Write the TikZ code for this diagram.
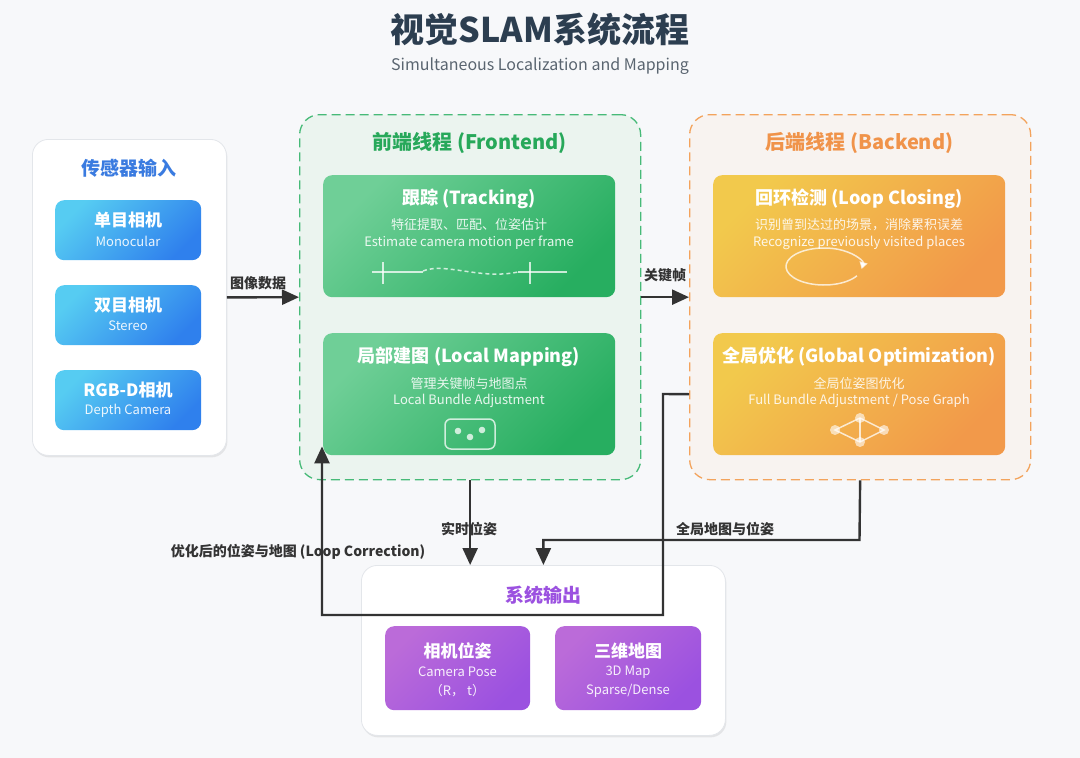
\documentclass[tikz,border=0pt]{standalone}
\usepackage{fontspec}
\setmainfont{Noto Sans CJK SC}
\usetikzlibrary{arrows.meta,shadows,calc}
\definecolor{bg}{HTML}{F7F8FA}
\definecolor{titlec}{HTML}{2C3E50}
\definecolor{subc}{HTML}{5A6570}
\definecolor{blueD}{HTML}{2F80ED}
\definecolor{blueL}{HTML}{56CCF2}
\definecolor{blueT}{HTML}{3A7BE0}
\definecolor{greenL}{HTML}{6FCF97}
\definecolor{greenD}{HTML}{27AE60}
\definecolor{greenT}{HTML}{27A85A}
\definecolor{greenF}{HTML}{EBF4EF}
\definecolor{orangeL}{HTML}{F2C94C}
\definecolor{orangeD}{HTML}{F2994A}
\definecolor{orangeT}{HTML}{F0934A}
\definecolor{orangeF}{HTML}{F8F3F0}
\definecolor{purpleL}{HTML}{BB6BD9}
\definecolor{purpleD}{HTML}{9B51E0}
\definecolor{darkc}{HTML}{333333}
\definecolor{panelline}{HTML}{E3E6EA}
\newcommand{\myfs}[1]{\fontsize{#1}{#1}\selectfont}
\begin{document}
\begin{tikzpicture}[x=1pt,y=-1pt,
  panel/.style={draw=panelline, line width=0.8pt, fill=white, rounded corners=16pt,
    anchor=north west, inner sep=0pt,
    drop shadow={shadow xshift=1pt, shadow yshift=-2pt, opacity=0.08, fill=black}},
  thread/.style={dashed, dash pattern=on 9pt off 5pt, line width=1.3pt, rounded corners=20pt,
    anchor=north west, inner sep=0pt},
  gbox/.style={rounded corners=9pt, anchor=north west, inner sep=0pt,
    top color=#1L, bottom color=#1D, shading angle=45},
  btitle/.style={text=white, font=\bfseries\myfs{18}},
  bsub/.style={text=white, text opacity=0.88, font=\myfs{13}},
  stitle/.style={text=white, font=\bfseries\myfs{17}},
  ssub/.style={text=white, text opacity=0.9, font=\myfs{13}},
  arr/.style={draw=darkc, line width=2.4pt, -{Triangle[length=17pt,width=15pt]}},
  alabel/.style={text=darkc, font=\bfseries\myfs{14}},
  icon/.style={draw=white, draw opacity=0.75, line width=1.5pt}
]
\useasboundingbox (0,0) rectangle (1080,758);
\fill[bg] (0,0) rectangle (1080,758);

% title
\node[text=titlec, font=\bfseries\myfs{34}] (title) at (540,30) {视觉SLAM系统流程};
\node[text=subc, font=\myfs{16}] (subtitle) at (540,66) {Simultaneous Localization and Mapping};

% sensor panel
\node[panel, minimum width=194pt, minimum height=316pt] (sens) at (32,139) {};
\node[text=blueT, font=\bfseries\myfs{19}] (sensT) at (129,168) {传感器输入};
\node[gbox=blue, minimum width=146pt, minimum height=60pt] (mono) at (55,200) {};
\node[stitle] (monoT) at (128,220) {单目相机};
\node[ssub] (monoS) at (128,241) {Monocular};
\node[gbox=blue, minimum width=146pt, minimum height=60pt] (stereo) at (55,285) {};
\node[stitle] (stereoT) at (128,305) {双目相机};
\node[ssub] (stereoS) at (128,326) {Stereo};
\node[gbox=blue, minimum width=146pt, minimum height=60pt] (rgbd) at (55,370) {};
\node[stitle] (rgbdT) at (128,390) {RGB-D相机};
\node[ssub] (rgbdS) at (128,411) {Depth Camera};

% frontend
\node[thread, draw=greenD!85, fill=greenF, minimum width=341pt, minimum height=365pt] (front) at (299,114) {};
\node[text=greenT, font=\bfseries\myfs{20}] (frontT) at (469.5,143) {前端线程 (Frontend)};
\node[gbox=green, minimum width=292pt, minimum height=122pt] (track) at (323,175) {};
\node[btitle] (trackT) at (469,199) {跟踪 (Tracking)};
\node[bsub] (trackS1) at (469,225) {特征提取、匹配、位姿估计};
\node[bsub] (trackS2) at (469,243) {Estimate camera motion per frame};
\draw[icon] (372,272) -- (423,272);
\draw[icon] (383,262) -- (383,284);
\draw[icon, dashed, dash pattern=on 4pt off 3pt] (423,271) .. controls (445,262) and (480,280) .. (518,272);
\draw[icon] (518,272) -- (567,272);
\draw[icon] (530,262) -- (530,284);

\node[gbox=green, minimum width=292pt, minimum height=122pt] (local) at (323,333) {};
\node[btitle] (localT) at (469,357) {局部建图 (Local Mapping)};
\node[bsub] (localS1) at (469,384) {管理关键帧与地图点};
\node[bsub] (localS2) at (469,401) {Local Bundle Adjustment};
\draw[icon, rounded corners=6pt] (445,419) rectangle (495,449);
\fill[white, opacity=0.75] (458,431) circle (3.3pt) (470,437) circle (3.3pt) (482,430) circle (3.3pt);

% backend
\node[thread, draw=orangeD!90, fill=orangeF, minimum width=341pt, minimum height=365pt] (back) at (689,114) {};
\node[text=orangeT, font=\bfseries\myfs{20}] (backT) at (859.5,143) {后端线程 (Backend)};
\node[gbox=orange, minimum width=292pt, minimum height=122pt] (loop) at (713,175) {};
\node[btitle] (loopT) at (859,199) {回环检测 (Loop Closing)};
\node[bsub] (loopS1) at (859,225) {识别曾到达过的场景，消除累积误差};
\node[bsub] (loopS2) at (859,243) {Recognize previously visited places};
\draw[icon, -{Triangle[length=7pt,width=8pt]}] ($(824,266.5)+(330:38pt and 18.5pt)$) arc[start angle=330, end angle=-8, x radius=38pt, y radius=18.5pt];

\node[gbox=orange, minimum width=292pt, minimum height=122pt] (glob) at (713,333) {};
\node[btitle] (globT) at (859,357) {全局优化 (Global Optimization)};
\node[bsub] (globS1) at (859,383) {全局位姿图优化};
\node[bsub] (globS2) at (859,401) {Full Bundle Adjustment / Pose Graph};
\draw[icon] (835,430) -- (860,418) -- (884,430) -- (860,442) -- cycle;
\draw[icon] (860,418) -- (860,442);
\fill[white, opacity=0.6] (835,430) circle (5pt) (860,418) circle (5pt) (884,430) circle (5pt) (860,442) circle (5pt);

% output
\node[panel, minimum width=364pt, minimum height=170pt] (out) at (361,565) {};
\node[text=purpleD, font=\bfseries\myfs{19}] (outT) at (543,595) {系统输出};
\node[gbox=purple, minimum width=145pt, minimum height=84pt] (pose) at (385,626) {};
\node[stitle] (poseT) at (457.5,651) {相机位姿};
\node[ssub] (poseS1) at (457.5,672) {Camera Pose};
\node[ssub] (poseS2) at (457.5,691) {（R， t）};
\node[gbox=purple, minimum width=146pt, minimum height=84pt] (map) at (555,626) {};
\node[stitle] (mapT) at (628,651) {三维地图};
\node[ssub] (mapS1) at (628,672) {3D Map};
\node[ssub] (mapS2) at (628,691) {Sparse/Dense};

% connectors
\draw[arr] (sens.east) -- (front.west);
\node[alabel] (l1) at (258,283) {图像数据};
\draw[arr] (front.east) -- (back.west);
\node[alabel] (l2) at (665,275) {关键帧};
\draw[arr] (front.south) -- (front.south |- out.north);
\node[alabel] (l3) at (469,529) {实时位姿};
\coordinate (c1) at (859.5,540);
\draw[arr] (back.south) -- (c1) -| (out.north);
\node[alabel] (l4) at (725,529) {全局地图与位姿};
\coordinate (c2) at (663,394);
\coordinate (c3) at (663,615);
\coordinate (c4) at ($(local.south west)+(-1,-9)$);
\draw[arr] (back.west |- glob.west) -- (c2) -- (c3) -| (c4);
\node[alabel] (l5) at (298,552) {优化后的位姿与地图 (Loop Correction)};
\end{tikzpicture}
\end{document}
